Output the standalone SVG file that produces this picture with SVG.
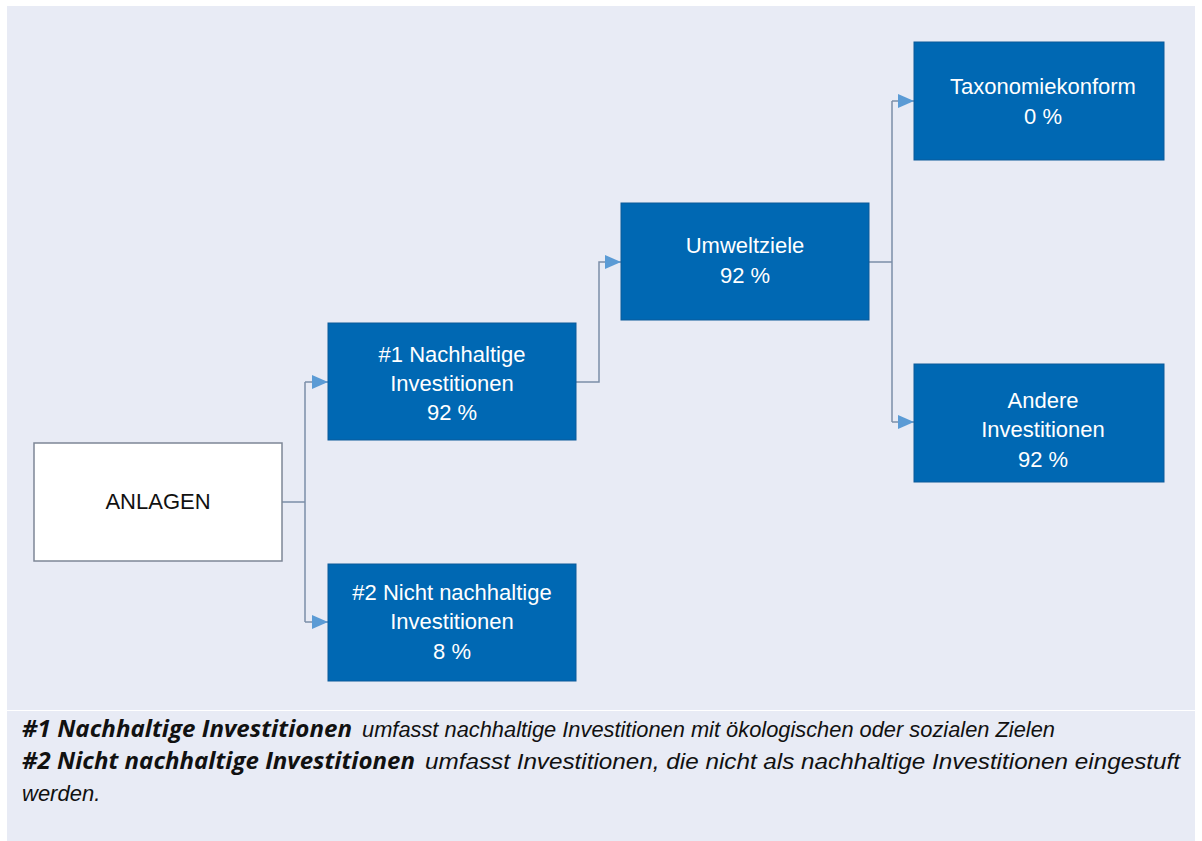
<svg xmlns="http://www.w3.org/2000/svg" width="1202" height="841" viewBox="0 0 1202 841">
  <style>
    .node { fill: #0068B3; stroke: #0A5A9A; stroke-width: 1; }
    .white { fill: #FFFFFF; stroke: #7D8796; stroke-width: 1.5; }
    .lbl { font-family: "Liberation Sans", Arial, sans-serif; font-size: 22px; fill: #FFFFFF; text-anchor: middle; }
    .dark { fill: #111111; }
    .conn { fill: none; stroke: #7B8FA8; stroke-width: 1.5; }
    .cap { font-family: "Liberation Sans", Arial, sans-serif; font-size: 22px; font-style: italic; fill: #111111; }
    .capb { font-family: "Open Sans", "Noto Sans", sans-serif; font-size: 23.5px; font-weight: bold; font-style: italic; fill: #111111; }
  </style>
  <defs>
    <marker id="arr" viewBox="0 0 16 14" refX="16" refY="7" markerWidth="16" markerHeight="14" markerUnits="userSpaceOnUse" orient="auto">
      <path d="M0,0 L16,7 L0,14 Z" fill="#5B9BD5"/>
    </marker>
  </defs>
  <rect x="0" y="0" width="1202" height="841" fill="#FFFFFF"/>
  <rect x="7" y="6" width="1188" height="704" fill="#E8EBF5"/>
  <rect x="7" y="711" width="1188" height="130" fill="#E8EBF5"/>

  <g id="connectors">
    <path class="conn" d="M282,502 H305 M305,382 V622" />
    <path class="conn" d="M305,382 H328" marker-end="url(#arr)"/>
    <path class="conn" d="M305,622 H328" marker-end="url(#arr)"/>
    <path class="conn" d="M576,382 H599 V262 H621" marker-end="url(#arr)"/>
    <path class="conn" d="M869,262 H892 M892,101 V422"/>
    <path class="conn" d="M892,101 H914" marker-end="url(#arr)"/>
    <path class="conn" d="M892,422 H914" marker-end="url(#arr)"/>
  </g>

  <g id="anlagen">
    <rect class="white" x="34" y="443" width="248" height="118"/>
    <text class="lbl dark" x="158" y="509">ANLAGEN</text>
  </g>
  <g id="nachhaltig">
    <rect class="node" x="328" y="323" width="248" height="117"/>
    <text class="lbl" x="452" y="362">#1 Nachhaltige</text>
    <text class="lbl" x="452" y="391">Investitionen</text>
    <text class="lbl" x="452" y="420">92 %</text>
  </g>
  <g id="nicht-nachhaltig">
    <rect class="node" x="328" y="564" width="248" height="117"/>
    <text class="lbl" x="452" y="600">#2 Nicht nachhaltige</text>
    <text class="lbl" x="452" y="629">Investitionen</text>
    <text class="lbl" x="452" y="659">8 %</text>
  </g>
  <g id="umweltziele">
    <rect class="node" x="621" y="203" width="248" height="117"/>
    <text class="lbl" x="745" y="253">Umweltziele</text>
    <text class="lbl" x="745" y="283">92 %</text>
  </g>
  <g id="taxonomiekonform">
    <rect class="node" x="914" y="42" width="250" height="118"/>
    <text class="lbl" x="1043" y="94">Taxonomiekonform</text>
    <text class="lbl" x="1043" y="124">0 %</text>
  </g>
  <g id="andere">
    <rect class="node" x="914" y="364" width="250" height="118"/>
    <text class="lbl" x="1043" y="408">Andere</text>
    <text class="lbl" x="1043" y="437">Investitionen</text>
    <text class="lbl" x="1043" y="467">92 %</text>
  </g>

  <g id="caption">
    <text class="capb" x="22" y="737" textLength="330" lengthAdjust="spacingAndGlyphs">#1 Nachhaltige Investitionen</text>
    <text class="cap" x="362" y="737" textLength="693" lengthAdjust="spacingAndGlyphs">umfasst nachhaltige Investitionen mit ökologischen oder sozialen Zielen</text>
    <text class="capb" x="22" y="769" textLength="393" lengthAdjust="spacingAndGlyphs">#2 Nicht nachhaltige Investitionen</text>
    <text class="cap" x="425" y="769" textLength="755" lengthAdjust="spacingAndGlyphs">umfasst Investitionen, die nicht als nachhaltige Investitionen eingestuft</text>
    <text class="cap" x="22" y="801">werden.</text>
  </g>
</svg>
